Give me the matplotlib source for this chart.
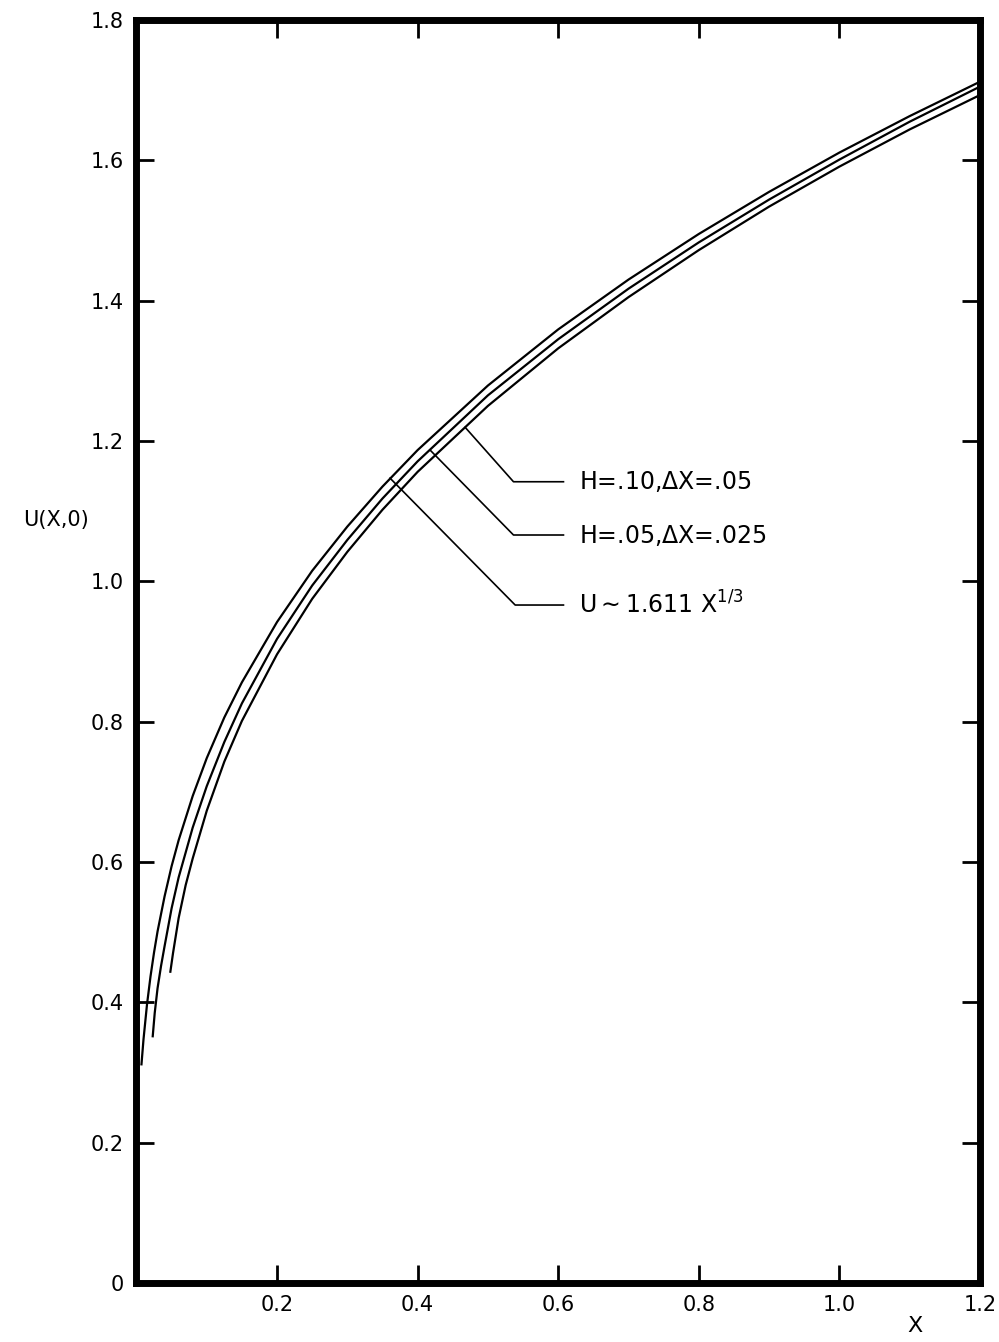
import matplotlib.pyplot as plt

# values
x_exact = [0.007, 0.01, 0.015, 0.02, 0.025, 0.03, 0.04, 0.05, 0.06, 0.08, 0.1,
           0.125, 0.15, 0.2, 0.25, 0.3, 0.35, 0.4, 0.5, 0.6, 0.7, 0.8, 0.9,
           1.0, 1.1, 1.2]
u_exact = [0.31, 0.347, 0.397, 0.437, 0.471, 0.501, 0.551, 0.594, 0.631, 0.694,
           0.748, 0.806, 0.856, 0.942, 1.015, 1.078, 1.135, 1.187, 1.279, 1.359,
           1.430, 1.495, 1.555, 1.611, 1.663, 1.712]

x_h05 = [0.023, 0.026, 0.03, 0.035, 0.04, 0.05, 0.06, 0.08, 0.1, 0.125, 0.15,
         0.2, 0.25, 0.3, 0.35, 0.4, 0.5, 0.6, 0.7, 0.8, 0.9, 1.0, 1.1, 1.2]
u_h05 = [0.35, 0.385, 0.42, 0.452, 0.48, 0.534, 0.578, 0.649, 0.708, 0.771,
         0.826, 0.918, 0.994, 1.059, 1.118, 1.171, 1.265, 1.345, 1.417, 1.483,
         1.544, 1.601, 1.655, 1.705]

x_h10 = [0.048, 0.052, 0.056, 0.06, 0.07, 0.08, 0.1, 0.125, 0.15, 0.2, 0.25,
         0.3, 0.35, 0.4, 0.5, 0.6, 0.7, 0.8, 0.9, 1.0, 1.1, 1.2]
u_h10 = [0.442, 0.47, 0.495, 0.52, 0.567, 0.605, 0.673, 0.743, 0.801, 0.896,
         0.975, 1.042, 1.102, 1.156, 1.25, 1.332, 1.405, 1.472, 1.534, 1.591,
         1.644, 1.693]

labels = ["H=.10,$\\Delta$X=.05", "H=.05,$\\Delta$X=.025", "U$\\sim$1.611 X$^{1/3}$"]
# leader: start on curve, elbow, end of horizontal
lead_start = [(0.4676, 1.2195), (0.4178, 1.187), (0.3608, 1.147)]
lead_elbow = [(0.5364, 1.1419), (0.5364, 1.066), (0.5388, 0.9662)]
lead_end_x = 0.6075

xticks = [0, 0.2, 0.4, 0.6, 0.8, 1.0, 1.2]
xticklabels = ["", "0.2", "0.4", "0.6", "0.8", "1.0", "1.2"]
yticks = [0, 0.2, 0.4, 0.6, 0.8, 1.0, 1.2, 1.4, 1.6, 1.8]
yticklabels = ["0", "0.2", "0.4", "0.6", "0.8", "1.0", "1.2", "1.4", "1.6", "1.8"]

fig = plt.figure(figsize=(9.99, 13.42), dpi=100)
ax = fig.add_axes([0.1366, 0.044, 0.8443, 0.9411])

for xs, us in [(x_exact, u_exact), (x_h05, u_h05), (x_h10, u_h10)]:
    ax.plot(xs, us, color='black', linewidth=1.6, solid_capstyle='butt')

for lab, (sx, sy), (ex, ey) in zip(labels, lead_start, lead_elbow):
    ax.plot([sx, ex, lead_end_x], [sy, ey, ey], color='black', linewidth=1.2)
    ax.text(lead_end_x + 0.022, ey, lab, fontsize=17, va='center', ha='left')

ax.set_xlim(0, 1.2)
ax.set_ylim(0, 1.8)
ax.set_xticks(xticks)
ax.set_xticklabels(xticklabels)
ax.set_yticks(yticks)
ax.set_yticklabels(yticklabels)
ax.tick_params(direction='in', length=13, width=2, top=True, right=True,
               labelsize=15, pad=9)
for s in ax.spines.values():
    s.set_linewidth(5)

ax.text(1.108, -0.062, "X", fontsize=16, ha='center', va='center')
ax.text(-0.115, 1.087, "U(X,0)", fontsize=15, ha='center', va='center')

fig.savefig("out.png", dpi=100)
